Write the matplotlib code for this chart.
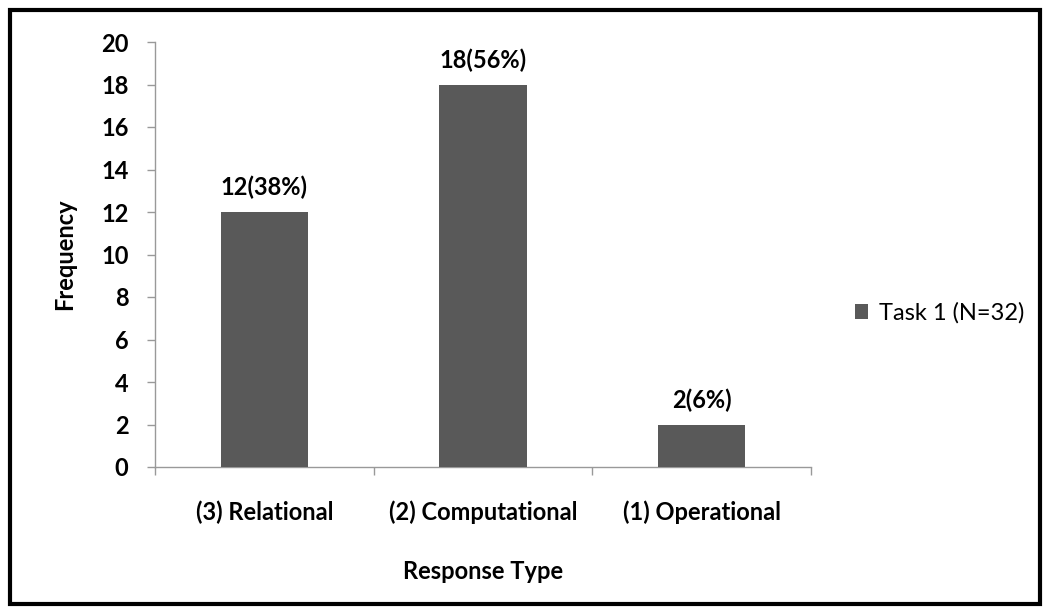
import matplotlib
matplotlib.use("Agg")
import matplotlib.pyplot as plt
from matplotlib.patches import Rectangle

categories = ["(3) Relational", "(2) Computational", "(1) Operational"]
values = [12, 18, 2]
labels = ["12(38%)", "18(56%)", "2(6%)"]
series_name = "Task 1 (N=32)"

W, H = 1050, 612
fig = plt.figure(figsize=(W / 100, H / 100), dpi=100)
fam = ["Lato", "DejaVu Sans"]
plt.rcParams['font.family'] = fam
FS = 17

# axes: x 155..811, y 42..467
ax = fig.add_axes([155 / W, 1 - 467 / H, (811 - 155) / W, (467 - 42) / H])
bar_color = "#595959"
x = list(range(len(categories)))
bars = ax.bar(x, values, width=0.4, color=bar_color, label=series_name, zorder=3)
ax.set_xlim(-0.5, len(categories) - 0.5)
ax.set_ylim(0, 20)
ax.set_yticks(range(0, 21, 2))
ax.set_yticklabels([str(v) for v in range(0, 21, 2)], fontsize=FS, fontweight="bold")
ax.set_xticks([i - 0.5 for i in range(len(categories) + 1)], minor=False)
ax.set_xticklabels([])
ax.set_xticks(x, minor=True)
ax.set_xticklabels(categories, minor=True, fontsize=FS, fontweight="bold")
ax.tick_params(axis="x", which="major", direction="out", length=6, color="#999999", width=1)
ax.tick_params(axis="x", which="minor", length=0, pad=24)
ax.tick_params(axis="y", direction="out", length=6, color="#999999", width=1, pad=13)
for s in ["top", "right"]:
    ax.spines[s].set_visible(False)
for s in ["left", "bottom"]:
    ax.spines[s].set_color("#999999")
    ax.spines[s].set_linewidth(1)

for xi, v, lab in zip(x, values, labels):
    ax.annotate(lab, (xi, v), xytext=(0, 9), textcoords="offset points",
                ha="center", va="bottom", fontsize=FS, fontweight="bold")

ax.set_ylabel("Frequency", fontsize=FS, fontweight="bold", labelpad=18)
ax.set_xlabel("Response Type", fontsize=FS, fontweight="bold", labelpad=26)

leg = fig.legend(handles=[bars], labels=[series_name], loc="center left",
                 bbox_to_anchor=(855 / W, 1 - 313 / H), frameon=False,
                 fontsize=FS, handlelength=0.55, handleheight=0.55, handletextpad=0.45,
                 borderaxespad=0, borderpad=0)

# figure border
fig.patches.append(Rectangle((10 / W, 1 - 604 / H), (1040 - 10) / W, (604 - 10) / H,
                             transform=fig.transFigure, fill=False,
                             edgecolor="black", linewidth=3))

fig.savefig("out.png", dpi=100)
